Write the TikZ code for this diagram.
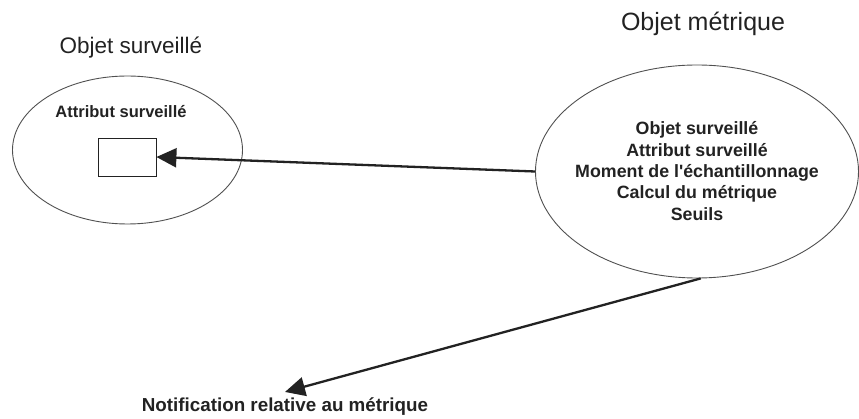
\documentclass[tikz,border=0pt]{standalone}
\usepackage{fontspec}
\setmainfont{Liberation Sans}
\usetikzlibrary{shapes.geometric,arrows.meta}
\definecolor{ink}{HTML}{222222}
\definecolor{rim}{HTML}{505050}
\begin{document}
\begin{tikzpicture}[x=1pt,y=-1pt,
  oval/.style={draw=rim,line width=0.9pt,ellipse,inner sep=0pt},
  title/.style={text=ink,font=\fontsize{#1}{27}\selectfont},
  label/.style={text=ink,font=\bfseries\fontsize{#1}{21.3}\selectfont,align=center,inner sep=0pt},
  link/.style={draw=ink,line width=2.3pt,-{Triangle[length=20pt,width=19pt]}}]
\useasboundingbox (0,0) rectangle (859,419);

% monitored object
\node[oval,minimum width=230pt,minimum height=148pt] (obj) at (127.5,150) {};
\node[title=22.5] (objt) at (131,48) {Objet surveillé};
\node[label=16.5] (attr) at (121,112) {Attribut surveillé};
\node[draw=ink,line width=0.8pt,minimum width=58pt,minimum height=38pt,inner sep=0pt] (box) at (127,157) {};

% metric object
\node[oval,minimum width=323pt,minimum height=213pt] (met) at (697,171.5) {};
\node[title=25] (mett) at (703,24) {Objet métrique};
\node[label=17.8] (metl) at (697,171) {Objet surveillé\\Attribut surveillé\\Moment de l\textquotesingle échantillonnage\\Calcul du métrique\\Seuils};

% notification
\node[label=18.8] (notif) at (285,407) {Notification relative au métrique};

% connectors
\draw[link] (met.west) -- (box.east);
\draw[link] (met.-88) -- ([yshift=6pt]notif.north);
\end{tikzpicture}
\end{document}
